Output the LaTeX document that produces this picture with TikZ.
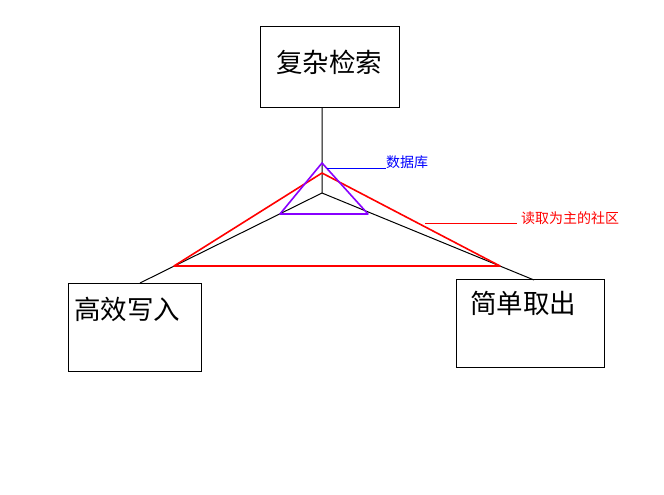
\documentclass[tikz,border=0pt]{standalone}
\usepackage{fontspec}
\newfontfamily\cjk{Noto Sans CJK SC}
\begin{document}
\begin{tikzpicture}[x=1pt,y=-1pt,
  box/.style={draw=black,line width=0.9pt,inner sep=0pt},
  big/.style={font=\cjk\fontsize{26.5}{28}\selectfont,inner sep=0pt},
  small/.style={font=\cjk\fontsize{14}{16}\selectfont,inner sep=0pt,anchor=west},
  tri/.style={line width=1.6pt,line join=round}]
\useasboundingbox (0,0) rectangle (664,495);
% boxes
\node[box,minimum width=139pt,minimum height=81pt] (top) at (329.5,66.5) {};
\node[box,minimum width=133pt,minimum height=88pt] (left) at (134.5,327) {};
\node[box,minimum width=148pt,minimum height=88pt] (right) at (530,323) {};
\node[big] (toptxt) at (329,62) {复杂检索};
\node[big] (lefttxt) at (127,309) {高效写入};
\node[big] (righttxt) at (523,303) {简单取出};
% skeleton
\coordinate (c) at (322,193);
\coordinate (ctop) at (322,107);
\coordinate (cl) at (140,283);
\coordinate (cr) at (534,280);
\draw[line width=1pt] (ctop) -- (c) -- (cl);
\draw[line width=1pt] (c) -- (cr);
% red triangle
\coordinate (ra) at (322,173);
\coordinate (rl) at (174,266);
\coordinate (rr) at (500,266);
\draw[tri,red] (ra) -- (rl) -- (rr) -- cycle;
% purple triangle
\coordinate (pa) at (322,163);
\coordinate (pl) at (280,214);
\coordinate (pr) at (368,214);
\draw[tri,color={rgb,255:red,136;green,0;blue,255}] (pa) -- (pl) -- (pr) -- cycle;
% labels
\node[small,text=blue] (db) at (386,162) {数据库};
\coordinate (dbs) at (327,168);
\draw[blue,line width=1pt] (dbs) -- (db.west |- dbs) ;
\node[small,text=red] (comm) at (521,218) {读取为主的社区};
\coordinate (cms) at (425,223);
\draw[red,line width=1pt] (cms) -- ([xshift=-4pt]comm.west |- cms);
\end{tikzpicture}
\end{document}
